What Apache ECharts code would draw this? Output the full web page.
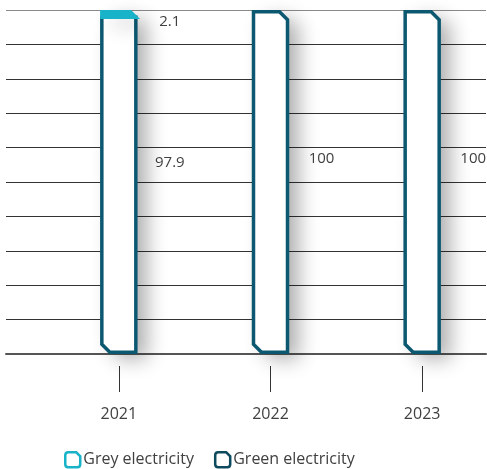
<!DOCTYPE html>
<html>
<head>
<meta charset="utf-8">
<title>Electricity mix</title>
<script src="https://cdn.jsdelivr.net/npm/echarts@6/dist/echarts.min.js"></script>
<style>
  html, body { margin: 0; padding: 0; background: #fff; }
  #chart { width: 487px; height: 469px; }
</style>
</head>
<body>
<div id="chart"></div>
<script>
// Share of electricity by source, in percent
const years = ['2021', '2022', '2023'];
const greenShare = [97.9, 100, 100];
const greyShare = [2.1, 0, 0];

const GREEN = '#0c5871';
const GREY = '#19b3c9';
const FONT = '"Open Sans", "DejaVu Sans", sans-serif';
const TEXT = '#404040';

const totals = years.map((_, i) => greenShare[i] + greyShare[i]);

// stacked segments: [category index, lower bound, upper bound]
const greenSegs = years.map((_, i) => [i, 0, greenShare[i]]);
const greySegs = years.map((_, i) => [i, greenShare[i], greenShare[i] + greyShare[i]]);

function fmt(v) {
  return String(Math.abs(v - Math.round(v)) < 1e-9 ? Math.round(v) : +v.toFixed(1));
}

// bar segment with a cut top-right corner (top of stack) and a cut bottom-left corner (foot of stack)
function makeRender(stroke, labelDy) {
  return function (params, api) {
    const ci = api.value(0);
    const lo = api.value(1);
    const hi = api.value(2);
    if (!(hi - lo > 0)) return null;
    const base = api.coord([ci, lo]);
    const top = api.coord([ci, hi]);
    const x = base[0];
    const half = 17;
    const lw = 3.5;
    const isBottom = lo === 0;
    const isTop = hi >= totals[ci] - 1e-9;
    let yb = base[1];
    let yt = top[1];
    if (isBottom) yb -= lw / 2;
    if (isTop) yt += lw / 2;
    const h = Math.max(yb - yt, 0);
    const c = Math.min(8, h);
    const pts = [[x - half, yt]];
    if (isTop) { pts.push([x + half - c, yt]); pts.push([x + half, yt + c]); }
    else pts.push([x + half, yt]);
    pts.push([x + half, yb]);
    if (isBottom) { pts.push([x - half + c, yb]); pts.push([x - half, yb - c]); }
    else pts.push([x - half, yb]);

    const thin = h < lw * 2 + 2;
    const mid = api.coord([ci, (lo + hi) / 2]);
    return {
      type: 'group',
      children: [
        {
          // soft drop shadow behind the bar
          type: 'polygon',
          shape: { points: pts },
          style: {
            fill: '#fff',
            shadowBlur: 20,
            shadowColor: 'rgba(0,0,0,0.32)',
            shadowOffsetX: 11,
            shadowOffsetY: 7
          }
        },
        {
          type: 'polygon',
          shape: { points: pts },
          style: {
            fill: thin ? stroke : '#fff',
            stroke: stroke,
            lineWidth: lw,
            lineJoin: 'miter'
          }
        },
        {
          type: 'text',
          z2: 10,
          style: {
            text: fmt(hi - lo),
            x: x + 51,
            y: mid[1] + labelDy,
            align: 'center',
            verticalAlign: 'middle',
            fontFamily: FONT,
            fontSize: 15,
            fill: TEXT
          }
        }
      ]
    };
  };
}

const chart = echarts.init(document.getElementById('chart'), null, { renderer: 'canvas' });

const lineColors = ['#333', '#333', '#333', '#333', '#333', '#333', '#333', '#333', '#333', '#333', '#8a8a8a'];
const legendIcon = 'path://M3,0 L11,0 L15,4 L15,12 Q15,15 12,15 L3,15 Q0,15 0,12 L0,3 Q0,0 3,0 Z';

chart.setOption({
  animation: false,
  backgroundColor: '#fff',
  grid: [
    // bars (the last band runs past the right edge)
    { left: 43, width: 455, top: 10, bottom: 115, outerBoundsMode: 'none' },
    // horizontal rules
    { left: 6, right: 1, top: 10, bottom: 115, outerBoundsMode: 'none' },
    // year ticks and labels, set a little below the baseline
    { left: 43, width: 455, top: 10, bottom: 103, outerBoundsMode: 'none' }
  ],
  legend: {
    left: 59,
    top: 446,
    itemWidth: 15,
    itemHeight: 15,
    itemGap: 20,
    textStyle: { fontFamily: FONT, fontSize: 16, color: TEXT, padding: [0, 0, 0, -2] },
    data: [
      { name: 'Grey electricity', icon: legendIcon, itemStyle: { color: '#fff', borderColor: GREY, borderWidth: 2.5 } },
      { name: 'Green electricity', icon: legendIcon, itemStyle: { color: '#fff', borderColor: '#0d4a5e', borderWidth: 2.5 } }
    ]
  },
  xAxis: [
    { type: 'category', gridIndex: 0, data: years, show: false },
    {
      type: 'value',
      gridIndex: 1,
      min: 0,
      max: 1,
      axisLine: { show: true, onZero: false, lineStyle: { color: '#555', width: 2 } },
      axisTick: { show: false },
      axisLabel: { show: false },
      splitLine: { show: false }
    },
    {
      type: 'category',
      gridIndex: 2,
      data: years,
      axisLine: { show: false },
      axisTick: { show: true, alignWithLabel: true, length: 26, lineStyle: { color: '#333', width: 1 } },
      axisLabel: { margin: 40, fontFamily: FONT, fontSize: 16, color: TEXT },
      splitLine: { show: false }
    }
  ],
  yAxis: [
    { type: 'value', gridIndex: 0, min: 0, max: 100, interval: 10, show: false },
    {
      type: 'value',
      gridIndex: 1,
      min: 0,
      max: 100,
      interval: 10,
      axisLine: { show: false },
      axisTick: { show: false },
      axisLabel: { show: false },
      splitLine: { show: true, lineStyle: { color: lineColors, width: 1 } }
    },
    { type: 'value', gridIndex: 2, min: 0, max: 100, show: false }
  ],
  series: [
    {
      name: 'Green electricity',
      type: 'custom',
      xAxisIndex: 0,
      yAxisIndex: 0,
      z: 5,
      itemStyle: { color: GREEN },
      renderItem: makeRender(GREEN, -23),
      encode: { x: 0, y: [1, 2] },
      data: greenSegs
    },
    {
      name: 'Grey electricity',
      type: 'custom',
      xAxisIndex: 0,
      yAxisIndex: 0,
      z: 6,
      itemStyle: { color: GREY },
      renderItem: makeRender(GREY, 8),
      encode: { x: 0, y: [1, 2] },
      data: greySegs
    }
  ]
});
</script>
</body>
</html>
